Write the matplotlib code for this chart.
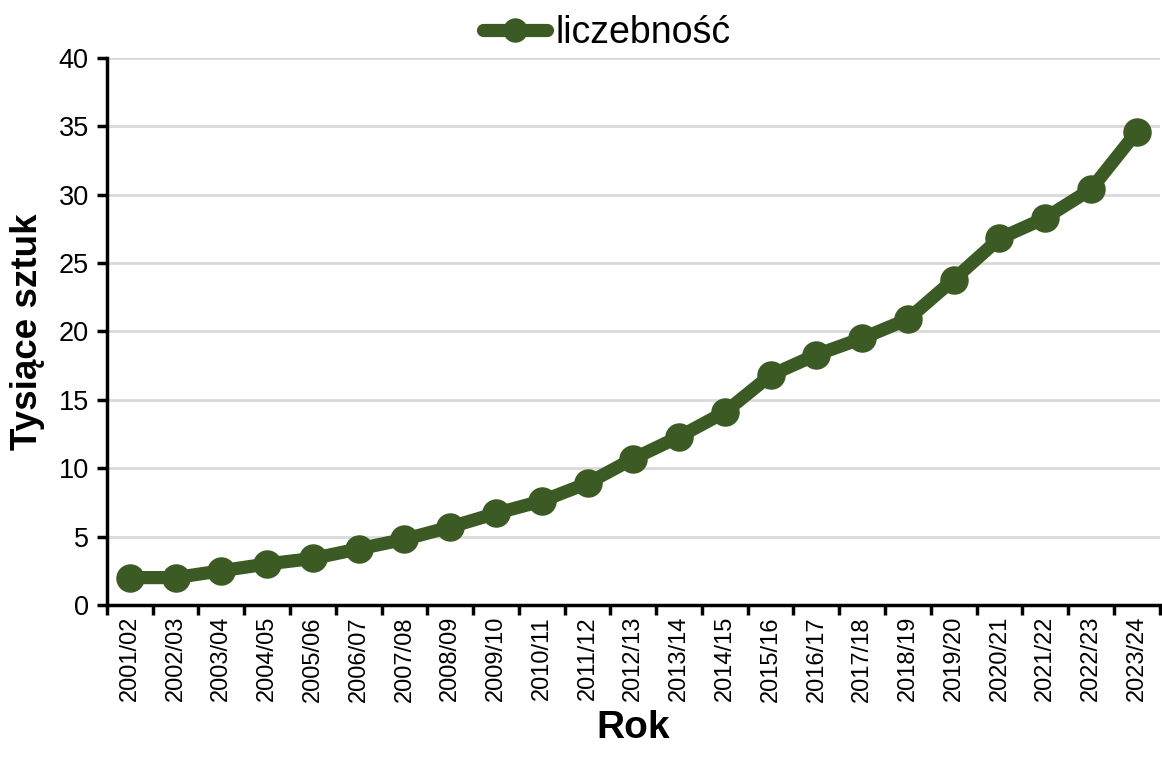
import numpy as np
import matplotlib.pyplot as plt

plt.rcParams['font.family'] = ['Liberation Sans', 'DejaVu Sans']

# Data
sezony = ["2001/02", "2002/03", "2003/04", "2004/05", "2005/06", "2006/07",
          "2007/08", "2008/09", "2009/10", "2010/11", "2011/12", "2012/13",
          "2013/14", "2014/15", "2015/16", "2016/17", "2017/18", "2018/19",
          "2019/20", "2020/21", "2021/22", "2022/23", "2023/24"]
liczebnosc = [2.0, 2.0, 2.5, 3.0, 3.4, 4.1, 4.8, 5.7, 6.7, 7.6, 8.9, 10.7,
              12.3, 14.1, 16.8, 18.3, 19.5, 20.9, 23.8, 26.8, 28.3, 30.4, 34.6]

green = '#3B5A24'

fig = plt.figure(figsize=(11.62, 7.60), dpi=100)
ax = fig.add_axes([0.092, 0.204, 0.906, 0.7197])

x = np.arange(len(sezony))
ax.plot(x, liczebnosc, color=green, lw=9.5, marker='o', ms=19.5,
        solid_joinstyle='round', solid_capstyle='round', label='liczebność')

ax.set_xlim(-0.5, len(sezony) - 0.5)
ax.set_ylim(0, 40)
ax.set_yticks(np.arange(0, 41, 5))
ax.yaxis.grid(True, color='#D9D9D9', lw=2)
ax.set_axisbelow(True)

ax.set_xticks(x)
ax.set_xticklabels(sezony, rotation=90)
ax.set_xticks(np.arange(-0.5, len(sezony)), minor=True)
ax.tick_params(axis='x', which='major', length=0, pad=8, labelsize=17)
ax.tick_params(axis='x', which='minor', length=7, width=2.5, direction='out')
ax.tick_params(axis='y', length=7, width=2.5, labelsize=19.5, pad=6)

for s in ['top', 'right']:
    ax.spines[s].set_visible(False)
for s in ['left', 'bottom']:
    ax.spines[s].set_linewidth(2.5)

ax.set_xlabel('Rok', fontsize=28, fontweight='bold', labelpad=6)
ax.set_ylabel('Tysiące sztuk', fontsize=26.5, fontweight='bold', labelpad=10)

ax.legend(loc='center', bbox_to_anchor=(0.475, 1.045), frameon=False,
          fontsize=27, handlelength=1.7, handletextpad=0.25, borderaxespad=0,
          markerscale=0.85)

fig.savefig('out.png', dpi=100)
